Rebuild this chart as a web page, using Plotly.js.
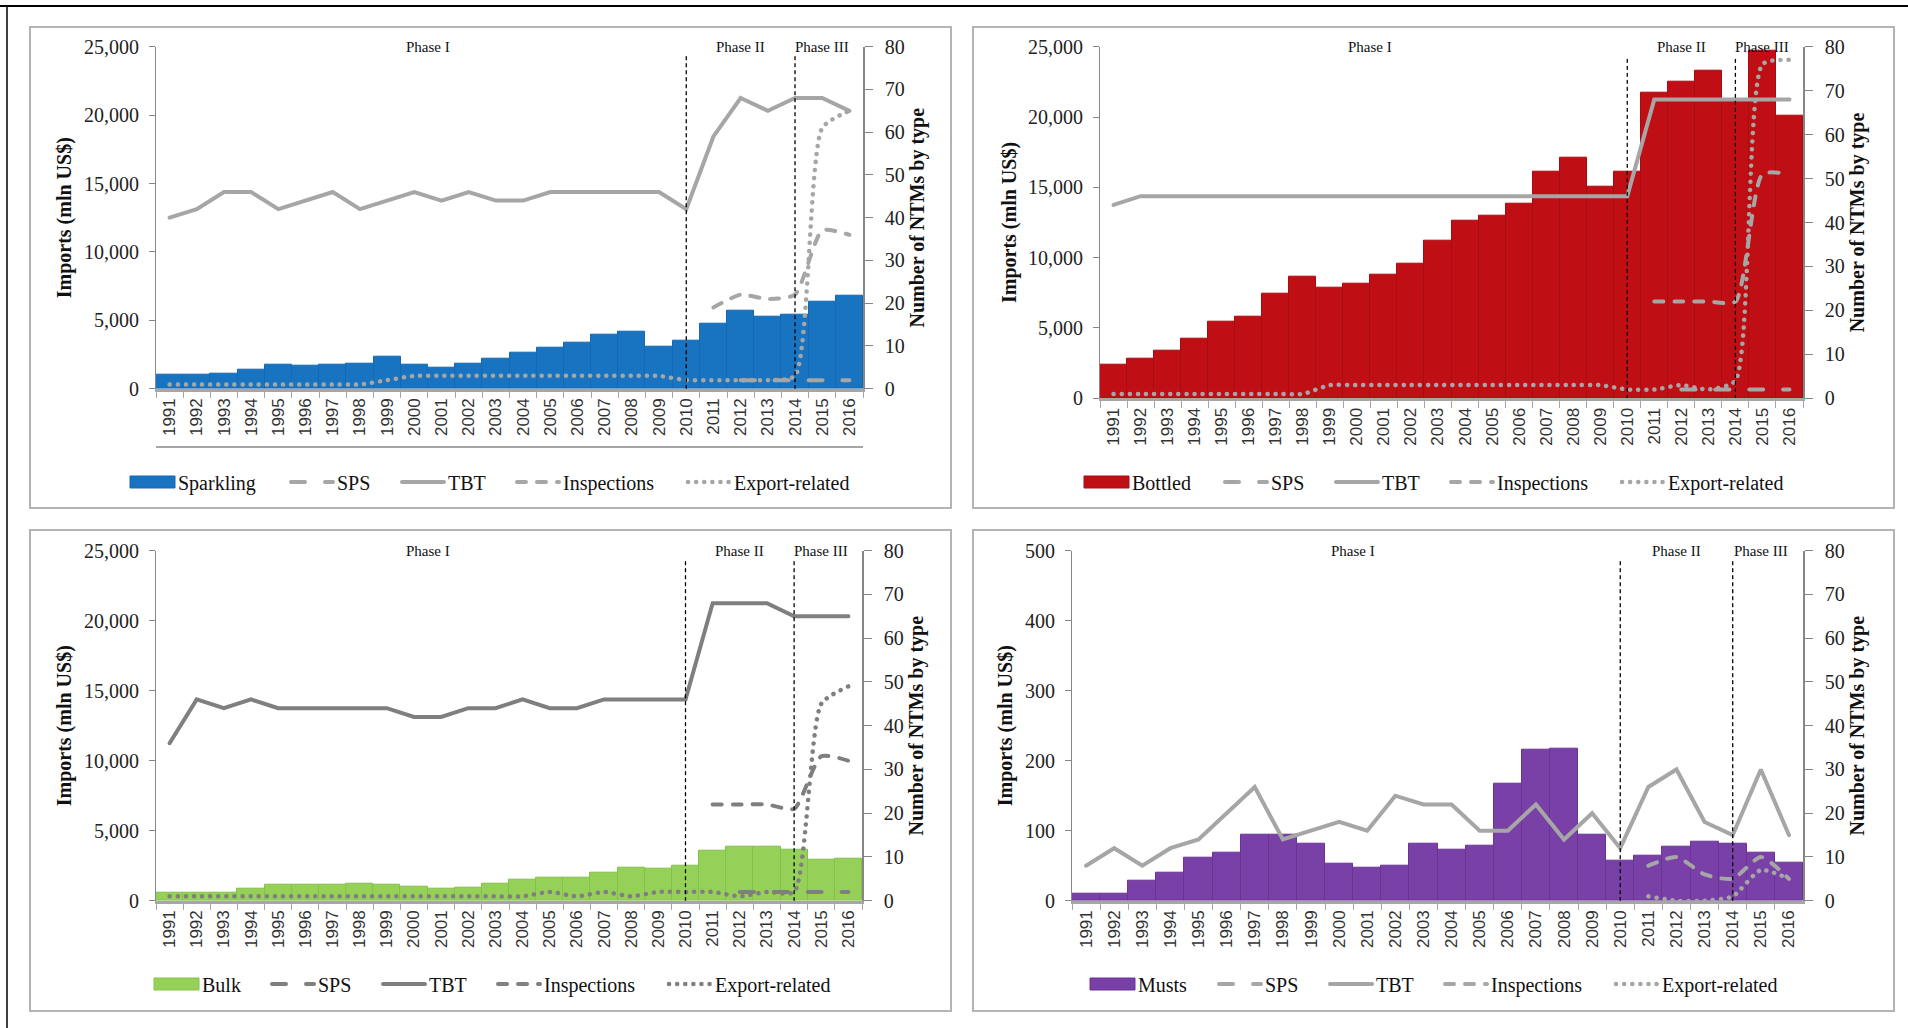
<!DOCTYPE html>
<html>
<head>
<meta charset="utf-8">
<script src="https://cdn.plot.ly/plotly-3.0.1.min.js"></script>
<style>
html,body{margin:0;padding:0;background:#fff;}
#chart{width:1908px;height:1028px;}
path.js-line{stroke-linecap:round !important;}
</style>
</head>
<body>
<div id="chart"></div>
<script>
// ---------------- DATA ----------------
const years = ['1991','1992','1993','1994','1995','1996','1997','1998','1999','2000','2001','2002','2003',
               '2004','2005','2006','2007','2008','2009','2010','2011','2012','2013','2014','2015','2016'];
const phaseNames = ['Phase I','Phase II','Phase III'];
const phaseBreaks = ['2010','2014'];
const seriesNames = ['SPS','TBT','Inspections','Export-related'];

const sparklingImports = [1000,1000,1100,1390,1750,1660,1750,1850,2310,1750,1560,1850,2220,2610,3000,3390,3970,4140,3090,3480,4730,5680,5290,5390,6340,6820];
const sparklingSPS = [null,null,null,null,null,null,null,null,null,null,null,null,null,null,null,null,null,null,null,null,null,2,2,2,2,2];
const sparklingTBT = [40,42,46,46,42,44,46,42,44,46,44,46,44,44,46,46,46,46,46,42,59,68,65,68,68,65];
const sparklingInspections = [null,null,null,null,null,null,null,null,null,null,null,null,null,null,null,null,null,null,null,null,19,22,21,22,37,36];
const sparklingExport = [1,1,1,1,1,1,1,1,2,3,3,3,3,3,3,3,3,3,3,2,2,2,2,3,61,65];

const bottledImports = [2400,2840,3410,4240,5450,5830,7420,8630,7890,8150,8790,9550,11230,12630,12990,13820,16140,17090,15020,16140,21730,22490,23300,21200,24700,20100];
const bottledSPS = [null,null,null,null,null,null,null,null,null,null,null,null,null,null,null,null,null,null,null,null,null,2,2,2,2,2];
const bottledTBT = [44,46,46,46,46,46,46,46,46,46,46,46,46,46,46,46,46,46,46,46,68,68,68,68,68,68];
const bottledInspections = [null,null,null,null,null,null,null,null,null,null,null,null,null,null,null,null,null,null,null,null,22,22,22,22,51,51];
const bottledExport = [1,1,1,1,1,1,1,1,3,3,3,3,3,3,3,3,3,3,3,2,2,3,2,4,76,77];

const bulkImports = [600,600,600,880,1120,1120,1120,1240,1120,980,860,950,1240,1520,1620,1620,2000,2380,2290,2480,3600,3860,3860,3670,2930,3020];
const bulkSPS = [null,null,null,null,null,null,null,null,null,null,null,null,null,null,null,null,null,null,null,null,null,2,2,2,2,2];
const bulkTBT = [36,46,44,46,44,44,44,44,44,42,42,44,44,46,44,44,46,46,46,46,68,68,68,65,65,65];
const bulkInspections = [null,null,null,null,null,null,null,null,null,null,null,null,null,null,null,null,null,null,null,null,22,22,22,21,33,32];
const bulkExport = [1,1,1,1,1,1,1,1,1,1,1,1,1,1,2,1,2,1,2,2,2,1,2,2,45,49];

const mustsImports = [10,10,29,40,62,68,94,94,81,53,47,50,81,73,79,167,216,217,94,57,64,77,84,81,68,55];
const mustsSPS = [null,null,null,null,null,null,null,null,null,null,null,null,null,null,null,null,null,null,null,null,null,null,null,null,null,null];
const mustsTBT = [8,12,8,12,14,20,26,14,16,18,16,24,22,22,16,16,22,14,20,12,26,30,18,15,30,15];
const mustsInspections = [null,null,null,null,null,null,null,null,null,null,null,null,null,null,null,null,null,null,null,null,8,10,6,5,10,5];
const mustsExport = [null,null,null,null,null,null,null,null,null,null,null,null,null,null,null,null,null,null,null,null,1,0,0,1,7,5];

// ---------------- LAYOUT / STYLE ----------------
const W = 1908, H = 1028;
const px = p => p / W;
const py = p => 1 - p / H;
const SERIF = 'Liberation Serif, Times New Roman, serif';
const SANS = 'Liberation Sans, Arial, sans-serif';
const lineLegendWidths = [56, 60, 116, 122];

const panels = [
  {label:'Sparkling', imp:sparklingImports, sps:sparklingSPS, tbt:sparklingTBT, insp:sparklingInspections, exp:sparklingExport,
   color:'#1874c1', edge:'#1668b0', grey:'#a6a6a6', max:25000, dtick:5000,
   plot:{l:156,r:863,t:46.7,b:388.7}, frame:{l:30,r:951,t:27,b:508}, legY:482, legX:128, barLW:104},
  {label:'Bottled', imp:bottledImports, sps:bottledSPS, tbt:bottledTBT, insp:bottledInspections, exp:bottledExport,
   color:'#c00f14', edge:'#a80c10', grey:'#a6a6a6', max:25000, dtick:5000,
   plot:{l:1100,r:1803,t:46.7,b:398.3}, frame:{l:973,r:1894,t:27,b:508}, legY:482, legX:1082, barLW:84},
  {label:'Bulk', imp:bulkImports, sps:bulkSPS, tbt:bulkTBT, insp:bulkInspections, exp:bulkExport,
   color:'#95d159', edge:'#86c04b', grey:'#7f7f7f', max:25000, dtick:5000,
   plot:{l:156,r:862,t:550.7,b:900.7}, frame:{l:30,r:951,t:530,b:1011}, legY:984, legX:152, barLW:61},
  {label:'Musts', imp:mustsImports, sps:mustsSPS, tbt:mustsTBT, insp:mustsInspections, exp:mustsExport,
   color:'#7940a7', edge:'#6a3494', grey:'#a6a6a6', max:500, dtick:100,
   plot:{l:1072,r:1803,t:550.7,b:900.7}, frame:{l:973,r:1894,t:530,b:1011}, legY:984, legX:1088, barLW:72}
];

const traces = [];
const layout = {
  width: W, height: H,
  margin: {l:0, r:0, t:0, b:0},
  paper_bgcolor: '#ffffff', plot_bgcolor: 'rgba(0,0,0,0)',
  bargap: 0, showlegend: true,
  shapes: [], annotations: []
};

panels.forEach((p, i) => {
  const xid = i === 0 ? 'x' : 'x' + (i + 1);
  const yl = 'y' + (i === 0 ? '' : (2 * i + 1));
  const yr = 'y' + (2 * i + 2);
  const xk = 'xaxis' + (i === 0 ? '' : (i + 1));
  const ylk = 'yaxis' + (i === 0 ? '' : (2 * i + 1));
  const yrk = 'yaxis' + (2 * i + 2);
  const lg = 'legend' + (i === 0 ? '' : (i + 1));
  const ydom = [py(p.plot.b), py(p.plot.t)];

  layout[xk] = {
    domain: [px(p.plot.l), px(p.plot.r)], anchor: yl, type: 'category',
    range: [-0.5, years.length - 0.5], tickangle: -90, tickson: 'boundaries',
    ticks: 'outside', ticklen: 7, tickcolor: '#a6a6a6', tickwidth: 1,
    showline: true, linecolor: '#a6a6a6', linewidth: 2.5,
    showgrid: false, zeroline: false, fixedrange: true,
    tickfont: {family: SANS, size: 17, color: '#333'}
  };
  layout[ylk] = {
    domain: ydom, anchor: xid, range: [0, p.max], dtick: p.dtick, tickformat: ',',
    showline: true, linecolor: '#868686', linewidth: 1, ticks: 'outside', ticklen: 6,
    tickcolor: '#868686', showgrid: false, zeroline: false, fixedrange: true,
    ticklabelstandoff: 6,
    tickfont: {family: SERIF, size: 20, color: '#222'},
    title: {text: 'Imports (mln US$)', standoff: 6, font: {family: SERIF, size: 20, color: '#111', weight: 'bold'}}
  };
  layout[yrk] = {
    domain: ydom, anchor: xid, overlaying: yl, side: 'right', range: [0, 80], dtick: 10,
    showline: true, linecolor: '#868686', linewidth: 1.5, ticks: 'outside', ticklen: 8,
    tickcolor: '#868686', showgrid: false, zeroline: false, fixedrange: true,
    ticklabelstandoff: 8,
    tickfont: {family: SERIF, size: 20, color: '#222'},
    title: {text: 'Number of NTMs by type', standoff: 6, font: {family: SERIF, size: 20, color: '#111', weight: 'bold'}}
  };
  layout[lg] = {
    orientation: 'h', x: px(p.legX), xanchor: 'left', y: py(p.legY), yanchor: 'middle',
    font: {family: SERIF, size: 20, color: '#111'}, bgcolor: 'rgba(0,0,0,0)',
    itemwidth: 40, traceorder: 'normal'
  };

  traces.push({
    type: 'bar', name: p.label, x: years, y: p.imp, xaxis: xid, yaxis: yl, legend: lg,
    legendwidth: p.barLW,
    width: 1, marker: {color: p.color, line: {color: p.edge, width: 1}}, hoverinfo: 'x+y'
  });
  const lineDefs = [
    {name: seriesNames[0], y: p.sps,  line: {color: p.grey, width: 4, dash: '14px,20px', shape: 'spline', smoothing: 0.6}},
    {name: seriesNames[1], y: p.tbt,  line: {color: p.grey, width: 4, shape: 'linear'}},
    {name: seriesNames[2], y: p.insp, line: {color: p.grey, width: 4, dash: '9px,11px', shape: 'spline', smoothing: 0.6}},
    {name: seriesNames[3], y: p.exp,  line: {color: p.grey, width: 4.5, dash: '0.1px,8px', shape: 'spline', smoothing: 0.6}}
  ];
  lineDefs.forEach((d, k) => traces.push({
    type: 'scatter', mode: 'lines', name: d.name, x: years, y: d.y, xaxis: xid, yaxis: yr,
    legend: lg, legendwidth: lineLegendWidths[k], line: d.line, connectgaps: false, cliponaxis: false
  }));

  // phase boundaries (vertical dashed rules at the break years)
  phaseBreaks.forEach(b => traces.push({
    type: 'scatter', mode: 'lines', x: [b, b], y: [0, 78], xaxis: xid, yaxis: yr,
    showlegend: false, hoverinfo: 'skip', line: {color: '#000', width: 1.3, dash: '3px,4px'}
  }));
  // phase labels, centred in each phase span
  const idx = phaseBreaks.map(b => years.indexOf(b));
  const bounds = [0].concat(idx).concat([years.length - 1]);
  phaseNames.forEach((nm, k) => layout.annotations.push({
    xref: xid, yref: yr, x: (bounds[k] + bounds[k + 1]) / 2, y: 80, yanchor: 'middle',
    text: nm, showarrow: false, font: {family: SERIF, size: 15, color: '#111'}
  }));
  // panel frame
  layout.shapes.push({
    type: 'rect', xref: 'paper', yref: 'paper', layer: 'below',
    x0: px(p.frame.l), x1: px(p.frame.r), y0: py(p.frame.b), y1: py(p.frame.t),
    line: {color: '#b4b4b4', width: 2}
  });
});

// decorative rules of the page
layout.shapes.push({type:'line', xref:'paper', yref:'paper', x0:0, x1:1, y0:py(6), y1:py(6), line:{color:'#000', width:2}});
layout.shapes.push({type:'line', xref:'paper', yref:'paper', x0:px(7), x1:px(7), y0:py(6), y1:0, line:{color:'#000', width:1.5}});
layout.shapes.push({type:'line', xref:'paper', yref:'paper', x0:px(156), x1:px(863), y0:py(447), y1:py(447), line:{color:'#a6a6a6', width:2}});

const gd = document.getElementById('chart');

// wider, Excel-like legend keys
function widenLegendKeys() {
  gd.querySelectorAll('g.traces').forEach(g => {
    const datum = g.__data__;
    const tr = datum && datum[0] && datum[0].trace;
    const isBar = tr && tr.type === 'bar';
    const pts = g.querySelector('.legendpoints');
    if (isBar && pts) {
      pts.querySelectorAll('path').forEach(pth => {
        pth.setAttribute('transform', 'translate(0,0)');
        pth.setAttribute('d', 'M2,-6H47V6H2Z');
      });
      pts.querySelectorAll('g').forEach(sub => sub.setAttribute('transform', 'translate(0,0)'));
    }
    const lines = g.querySelector('.legendlines');
    if (lines) lines.querySelectorAll('path').forEach(l => l.setAttribute('d', 'M4,0h42'));
  });
}

Plotly.newPlot(gd, traces, layout, {displayModeBar: false});
widenLegendKeys();
gd.on && gd.on('plotly_afterplot', widenLegendKeys);
requestAnimationFrame(widenLegendKeys);
setTimeout(widenLegendKeys, 0);
setTimeout(widenLegendKeys, 200);
</script>
</body>
</html>
